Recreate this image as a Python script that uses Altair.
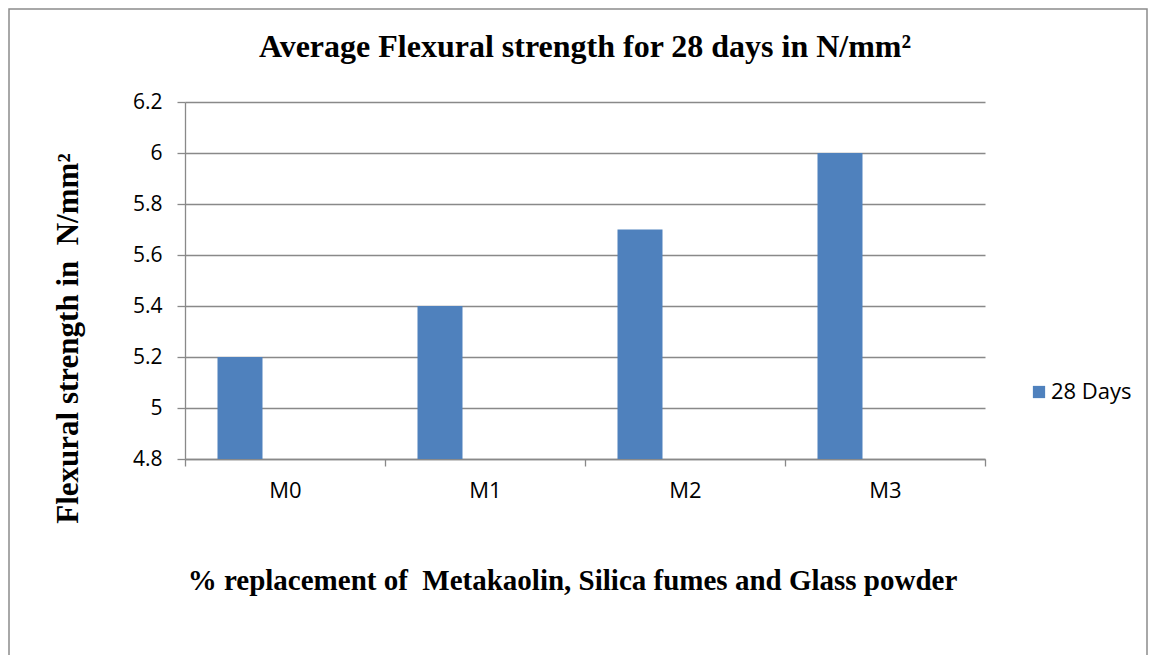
import altair as alt
import pandas as pd

categories = ["M0", "M1", "M2", "M3"]
values = [5.2, 5.4, 5.7, 6.0]
series_name = "28 Days"
slot_names = ["28 Days", "slot2", "slot3"]
y_ticks = [4.8, 5.0, 5.2, 5.4, 5.6, 5.8, 6.0, 6.2]
chart_title = ["Average Flexural strength for 28 days in N/mm²"]
x_title = "% replacement of\u00a0 Metakaolin, Silica fumes and Glass powder"
y_title = "Flexural strength in\u00a0 N/mm²"

df = pd.DataFrame({"cat": categories, "val": values, "series": [series_name] * len(categories)})

GRID = "#898989"
BLUE = "#4F81BD"

bars = alt.Chart(df).mark_bar(color=BLUE, clip=True).encode(
    x=alt.X(
        "cat:N",
        sort=categories,
        scale=alt.Scale(paddingInner=0, paddingOuter=0),
        axis=alt.Axis(
            title=x_title,
            titleFont="Liberation Serif",
            titleFontWeight="bold",
            titleFontSize=29,
            titleColor="black",
            titleX=387,
            titleY=121,
            titleBaseline="middle",
            labelAngle=0,
            labelFont="Open Sans",
            labelFontSize=22,
            labelColor="black",
            labelPadding=14,
            tickBand="extent",
            tickSize=7,
            tickColor=GRID,
            domainColor=GRID,
            grid=False,
        ),
    ),
    xOffset=alt.XOffset(
        "series:N",
        scale=alt.Scale(domain=slot_names, paddingInner=0, paddingOuter=0.722),
    ),
    y=alt.Y(
        "val:Q",
        scale=alt.Scale(domain=[4.8, 6.2], zero=False, nice=False),
        axis=alt.Axis(
            values=y_ticks,
            format="~g",
            title=y_title,
            titleFont="Liberation Serif",
            titleFontWeight="bold",
            titleFontSize=31,
            titleColor="black",
            titleX=-117,
            titleY=236,
            titleAngle=-90,
            titleAlign="center",
            titleBaseline="middle",
            labelFont="Open Sans",
            labelFontSize=21,
            labelColor="black",
            labelPadding=15,
            tickSize=8,
            tickColor=GRID,
            domainColor=GRID,
            gridColor=GRID,
            gridWidth=1.3,
        ),
    ),
    color=alt.Color(
        "series:N",
        scale=alt.Scale(domain=[series_name], range=[BLUE]),
        legend=alt.Legend(
            title=None,
            orient="none",
            legendX=843,
            legendY=279,
            symbolType="square",
            symbolSize=150,
            symbolStrokeWidth=0,
            labelFont="Open Sans",
            labelFontSize=22,
            labelColor="black",
            labelOffset=1,
        ),
    ),
)

title_df = pd.DataFrame({"t": chart_title})
title = alt.Chart(title_df).mark_text(
    font="Liberation Serif",
    fontWeight="bold",
    fontSize=32,
    color="black",
    align="center",
    baseline="alphabetic",
).encode(
    text="t:N",
    x=alt.value(400),
    y=alt.value(-45),
)

border_df = pd.DataFrame({"k": [0]})
border = alt.Chart(border_df).mark_rect(fill="transparent", stroke="#8c8c8c", strokeWidth=1.5).encode(
    x=alt.value(-176),
    x2=alt.value(962),
    y=alt.value(-93),
    y2=alt.value(700),
)

chart = alt.layer(bars, title, border).properties(
    width=800,
    height=357,
    padding={"left": 177, "top": 94, "right": 163, "bottom": 196},
    autosize=alt.AutoSizeParams(type="none"),
).configure_view(stroke="transparent").configure_axis(domainWidth=1.3, tickWidth=1.3)

chart.save("out.html", embed_options={"renderer": "svg", "actions": False})
